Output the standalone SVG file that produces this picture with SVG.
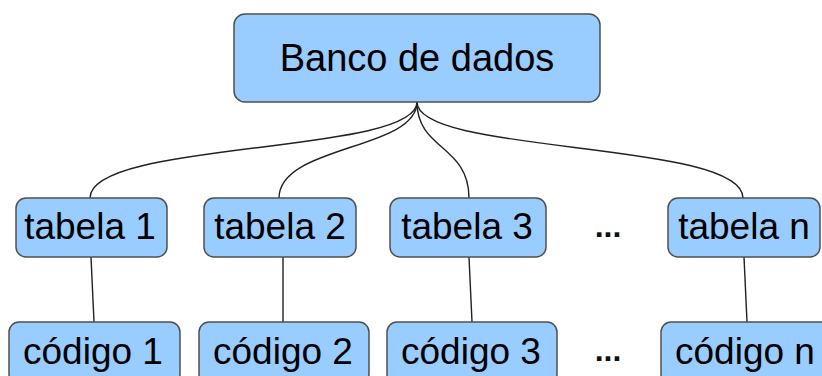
<svg xmlns="http://www.w3.org/2000/svg" width="822" height="376" viewBox="0 0 822 376">
<style>
.box{fill:#99ccff;stroke:#505050;stroke-width:1.5}
.lbl{font-family:"Liberation Sans",Arial,sans-serif;font-size:37px;fill:#000;text-anchor:middle}
.big{font-size:38px}
.conn{fill:none;stroke:#222;stroke-width:1.4}
.dots{font-family:"Liberation Sans",Arial,sans-serif;font-size:32px;font-weight:bold;fill:#111;text-anchor:middle}
</style>
<rect width="822" height="376" fill="#fff"/>
<g id="connectors">
<path class="conn" d="M417,102 C417,155 90,140 90,198"/>
<path class="conn" d="M417,102 C417,150 279,145 279,198"/>
<path class="conn" d="M417,102 C417,150 469,145 469,198"/>
<path class="conn" d="M417,102 C417,155 743,140 743,198"/>
<path class="conn" d="M91,257 L94,322"/>
<path class="conn" d="M283,257 L283,322"/>
<path class="conn" d="M469,257 L472,322"/>
<path class="conn" d="M744,257 L747,322"/>
</g>
<g id="banco">
<rect class="box" x="234" y="14" width="366" height="88" rx="11"/>
<text class="lbl big" x="417" y="71">Banco de dados</text>
</g>
<g id="tabela1">
<rect class="box" x="16" y="198" width="151" height="59" rx="10"/>
<text class="lbl" x="90" y="239">tabela 1</text>
</g>
<g id="tabela2">
<rect class="box" x="204" y="198" width="152" height="59" rx="10"/>
<text class="lbl" x="280" y="239">tabela 2</text>
</g>
<g id="tabela3">
<rect class="box" x="390" y="198" width="156" height="59" rx="10"/>
<text class="lbl" x="467" y="239">tabela 3</text>
</g>
<g id="dots1">
<text class="dots" x="608" y="237">...</text>
</g>
<g id="tabelan">
<rect class="box" x="668" y="198" width="152" height="59" rx="10"/>
<text class="lbl" x="744" y="239">tabela n</text>
</g>
<g id="codigo1">
<rect class="box" x="9" y="322" width="171" height="62" rx="10"/>
<text class="lbl" x="93" y="364">código 1</text>
</g>
<g id="codigo2">
<rect class="box" x="199" y="322" width="170" height="62" rx="10"/>
<text class="lbl" x="283" y="364">código 2</text>
</g>
<g id="codigo3">
<rect class="box" x="387" y="322" width="170" height="62" rx="10"/>
<text class="lbl" x="471" y="364">código 3</text>
</g>
<g id="dots2">
<text class="dots" x="608" y="361">...</text>
</g>
<g id="codigon">
<rect class="box" x="661" y="322" width="175" height="62" rx="10"/>
<text class="lbl" x="745" y="364">código n</text>
</g>
</svg>
